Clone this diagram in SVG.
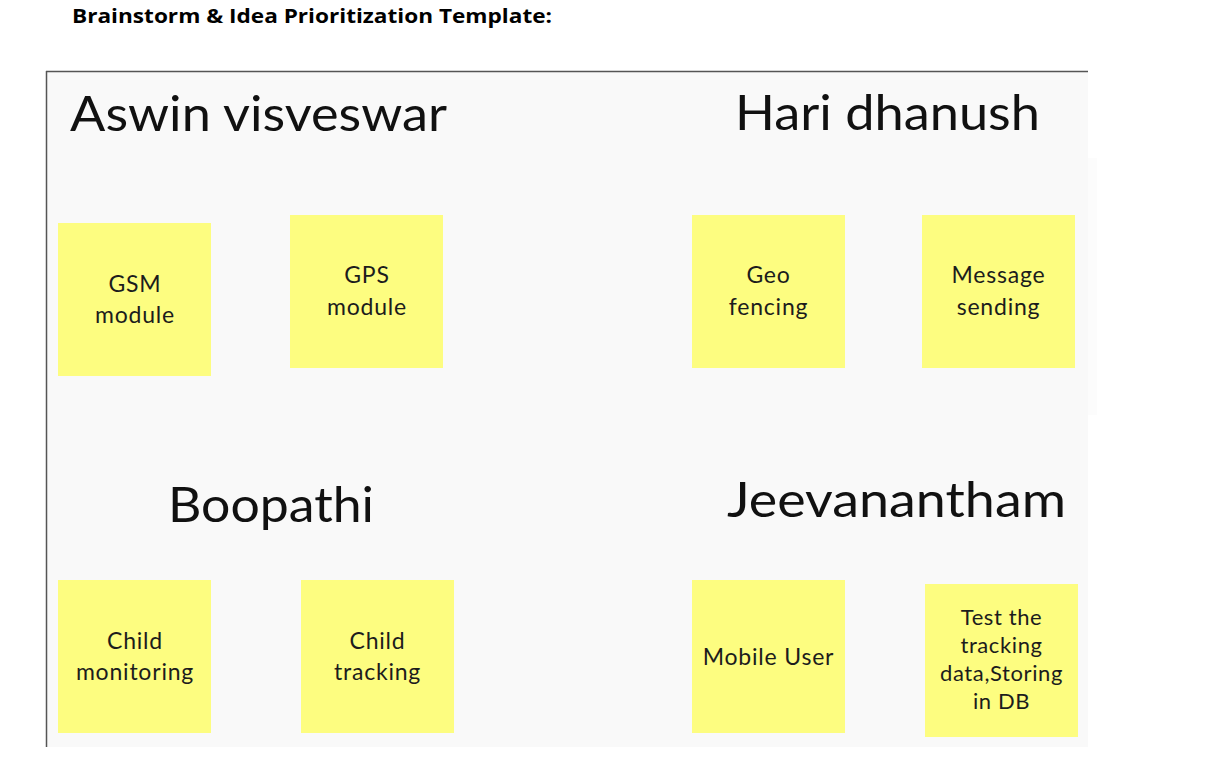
<svg xmlns="http://www.w3.org/2000/svg" width="1232" height="782" viewBox="0 0 1232 782">
  <style>
    .title { font-family: "Open Sans", "Liberation Sans", sans-serif; font-weight: 700; font-size: 20px; fill: #000; }
    .name { font-family: Lato, "Noto Sans", sans-serif; font-size: 48px; fill: #111; }
    .note rect { fill: #fdfd80; }
    .note text { font-family: Lato, "Noto Sans", sans-serif; font-size: 23px; letter-spacing: 0.8px; fill: #1c1c1c; text-anchor: middle; }
    .note .small { font-size: 22px; letter-spacing: 0.6px; }
  </style>
  <rect x="0" y="0" width="1232" height="782" fill="#ffffff"/>
  <text class="title" x="72" y="23" textLength="480" lengthAdjust="spacingAndGlyphs">Brainstorm &amp; Idea Prioritization Template:</text>

  <g id="board">
    <rect x="47" y="72" width="1041" height="675" fill="#f9f9f9"/>
    <rect x="1088" y="158" width="9" height="257" fill="#fcfcfc"/>
    <line x1="46" y1="71.5" x2="1088" y2="71.5" stroke="#555" stroke-width="1.5"/>
    <line x1="46.5" y1="71" x2="46.5" y2="747" stroke="#555" stroke-width="1.5"/>
  </g>

  <g id="names">
    <text class="name" x="70" y="131" textLength="377" lengthAdjust="spacingAndGlyphs">Aswin visveswar</text>
    <text class="name" x="735" y="130" textLength="305" lengthAdjust="spacingAndGlyphs">Hari dhanush</text>
    <text class="name" x="168" y="522" textLength="206" lengthAdjust="spacingAndGlyphs">Boopathi</text>
    <text class="name" x="727" y="517" textLength="339" lengthAdjust="spacingAndGlyphs">Jeevanantham</text>
  </g>

  <g id="note-gsm" class="note">
    <rect x="58" y="223" width="153" height="153"/>
    <text x="135" y="292">GSM</text>
    <text x="135" y="323">module</text>
  </g>
  <g id="note-gps" class="note">
    <rect x="290" y="215" width="153" height="153"/>
    <text x="367" y="283">GPS</text>
    <text x="367" y="315">module</text>
  </g>
  <g id="note-geo" class="note">
    <rect x="692" y="215" width="153" height="153"/>
    <text x="768.5" y="283">Geo</text>
    <text x="768.5" y="315">fencing</text>
  </g>
  <g id="note-message" class="note">
    <rect x="922" y="215" width="153" height="153"/>
    <text x="998.5" y="283">Message</text>
    <text x="998.5" y="315">sending</text>
  </g>
  <g id="note-child-monitoring" class="note">
    <rect x="58" y="580" width="153" height="153"/>
    <text x="135" y="649">Child</text>
    <text x="135" y="680">monitoring</text>
  </g>
  <g id="note-child-tracking" class="note">
    <rect x="301" y="580" width="153" height="153"/>
    <text x="377.5" y="649">Child</text>
    <text x="377.5" y="680">tracking</text>
  </g>
  <g id="note-mobile-user" class="note">
    <rect x="692" y="580" width="153" height="153"/>
    <text x="768.5" y="665">Mobile User</text>
  </g>
  <g id="note-test" class="note">
    <rect x="925" y="584" width="153" height="153"/>
    <text class="small" x="1001.5" y="625">Test the</text>
    <text class="small" x="1001.5" y="653">tracking</text>
    <text class="small" x="1001.5" y="681">data,Storing</text>
    <text class="small" x="1001.5" y="709">in DB</text>
  </g>

  <g id="connectors"></g>
</svg>
